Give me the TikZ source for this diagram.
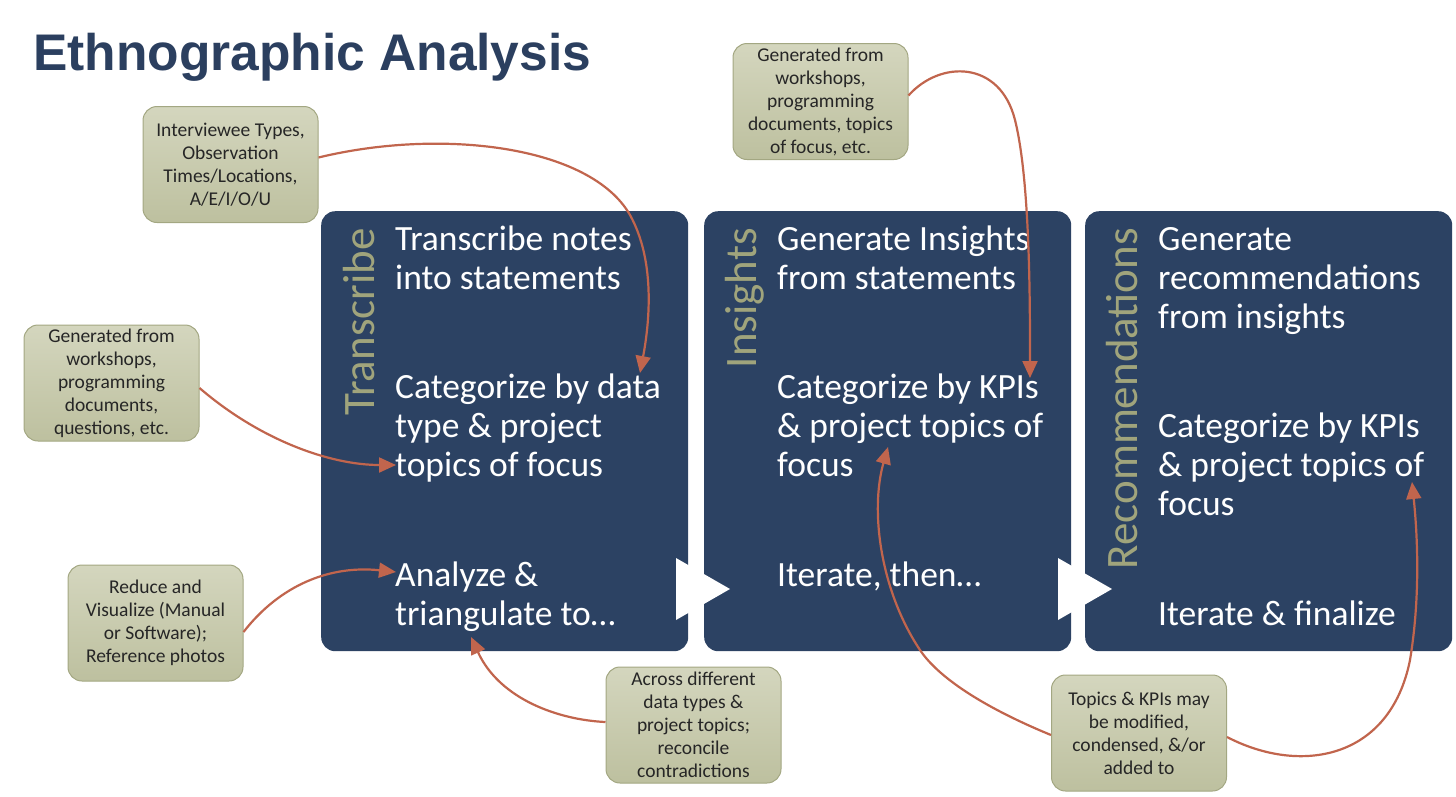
\documentclass[tikz,border=0pt]{standalone}
\usepackage{fontspec}
\setmainfont{Carlito}
\newfontfamily\titlefont{Liberation Sans}
\usetikzlibrary{arrows.meta}
\definecolor{navy}{HTML}{2C4263}
\definecolor{titleblue}{HTML}{2B3F5F}
\definecolor{olivetxt}{HTML}{A0A47C}
\definecolor{calfillt}{HTML}{D4D6BE}
\definecolor{calfillb}{HTML}{BDC09F}
\definecolor{calborder}{HTML}{A3A782}
\definecolor{arrowc}{HTML}{C1654D}
\definecolor{caltext}{HTML}{262626}
\begin{document}
\begin{tikzpicture}[x=1pt,y=-1pt,
  panel/.style={fill=navy, rounded corners=14pt, draw=none, inner sep=0pt,
    minimum width=367pt, minimum height=440pt, anchor=north west},
  maintext/.style={text=white, font=\fontsize{35.5}{38.6}\selectfont, align=left,
    inner sep=0pt, anchor=base west},
  vlabel/.style={rotate=90, text=olivetxt, font=\fontsize{45}{50}\selectfont,
    inner sep=0pt, anchor=base east},
  callout/.style={draw=calborder, line width=1pt, top color=calfillt, bottom color=calfillb,
    rounded corners=14pt, minimum width=175pt, minimum height=116pt, inner sep=2pt,
    align=center, text=caltext, font=\fontsize{19.5}{23}\selectfont},
  conn/.style={draw=arrowc, line width=2.2pt, -{Triangle[length=17pt,width=15pt]}},
  playtri/.style={fill=white, draw=none}
]
\useasboundingbox (0,0) rectangle (1456,796);

% title
\node[anchor=base west, font=\titlefont\bfseries\fontsize{51.5}{60}\selectfont,
  text=titleblue, inner sep=0pt] (title) at (33,70) {Ethnographic Analysis};

% panels
\node[panel] (p1) at (321,211) {};
\node[panel] (p2) at (704,211) {};
\node[panel] (p3) at (1085,211) {};

% vertical labels
\node[vlabel] (v1) at (374,228) {Transcribe};
\node[vlabel] (v2) at (756,228) {Insights};
\node[vlabel] (v3) at (1137,228) {Recommendations};

% panel 1 text (anchor = baseline of last line)
\node[maintext] (t1a) at (395,289) {Transcribe notes\\into statements};
\node[maintext] (t1b) at (395,476) {Categorize by data\\type \& project\\topics of focus};
\node[maintext] (t1c) at (395,625) {Analyze \&\\triangulate to\dots};
% panel 2 text
\node[maintext] (t2a) at (777,289) {Generate Insights\\from statements};
\node[maintext] (t2b) at (777,476) {Categorize by KPIs\\\& project topics of\\focus};
\node[maintext] (t2c) at (777,586) {Iterate, then\dots};
% panel 3 text
\node[maintext] (t3a) at (1158,328) {Generate\\recommendations\\from insights};
\node[maintext] (t3b) at (1158,515) {Categorize by KPIs\\\& project topics of\\focus};
\node[maintext] (t3c) at (1158,625) {Iterate \& finalize};

% play triangles
\fill[playtri] (676,558) -- (730,589) -- (676,620) -- cycle;
\fill[playtri] (1058,558) -- (1112,589) -- (1058,620) -- cycle;

% callouts
\node[callout] (c1) at (230.5,164.5) {Interviewee Types,\\Observation\\Times/Locations,\\A/E/I/O/U};
\node[callout] (c2) at (111.5,383) {Generated from\\workshops,\\programming\\documents,\\questions, etc.};
\node[callout] (c3) at (155.5,623) {Reduce and\\Visualize (Manual\\or Software);\\Reference photos};
\node[callout] (c4) at (693.5,725) {Across different\\data types \&\\project topics;\\reconcile\\contradictions};
\node[callout] (c5) at (820.5,101.5) {Generated from\\workshops,\\programming\\documents, topics\\of focus, etc.};
\node[callout] (c6) at (1139,733) {Topics \& KPIs may\\be modified,\\condensed, \&/or\\added to};

% arrow targets
\coordinate (e1) at (640,373);
\coordinate (e2) at (396,465);
\coordinate (e3) at (396,572);
\coordinate (e4) at (471,637);
\coordinate (e5) at (1030,378);
\coordinate (e6) at (888,447);
\coordinate (e7) at (1412,482);

% connectors
\draw[conn] ([yshift=7pt]c1.east) .. controls (440,128) and (590,145) .. (630,215)
  .. controls (655,260) and (650,320) .. (e1);
\draw[conn] ([yshift=-5pt]c2.east) .. controls (260,440) and (330,465) .. (e2);
\draw[conn] ([yshift=-9pt]c3.east) .. controls (280,585) and (330,565) .. (e3);
\draw[conn] ([yshift=3pt]c4.west) .. controls (560,720) and (500,700) .. (e4);
\draw[conn] ([yshift=6pt]c5.east) .. controls (940,60) and (1000,60) .. (1015,120)
  .. controls (1030,180) and (1030,300) .. (e5);
\draw[conn] ([yshift=-2pt]c6.west) .. controls (990,710) and (940,680) .. (920,650)
  .. controls (880,590) and (870,510) .. (e6);
\draw[conn] ([yshift=-4pt]c6.east) .. controls (1300,775) and (1390,760) .. (1410,660)
  .. controls (1420,600) and (1418,540) .. (e7);
\end{tikzpicture}
\end{document}
